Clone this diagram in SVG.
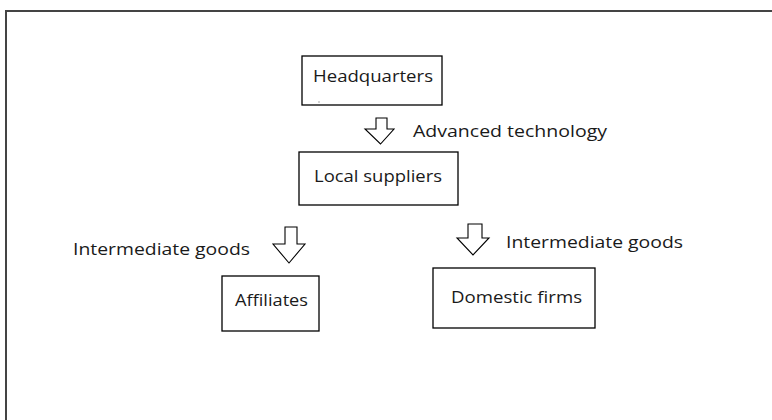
<svg xmlns="http://www.w3.org/2000/svg" width="772" height="420" viewBox="0 0 772 420">
<style>
.box{fill:#fff;stroke:#000;stroke-width:1.3}
.t{font-family:"Open Sans","Noto Sans","Liberation Sans",sans-serif;font-size:16.5px;fill:#1a1a1a}
.arr{fill:#fff;stroke:#000;stroke-width:1.1;stroke-linejoin:miter}
</style>
<rect x="0" y="0" width="772" height="420" fill="#fff"/>
<rect x="6" y="11" width="800" height="450" fill="none" stroke="#444" stroke-width="2"/>
<g id="headquarters">
<rect class="box" x="302" y="56" width="140" height="49"/>
<text class="t" x="313" y="82" textLength="120" lengthAdjust="spacingAndGlyphs">Headquarters</text>
<rect x="318.5" y="101.5" width="1" height="1" fill="#555"/>
</g>
<g id="local-suppliers">
<rect class="box" x="299" y="152" width="159" height="53"/>
<text class="t" x="314" y="182" textLength="128" lengthAdjust="spacingAndGlyphs">Local suppliers</text>
</g>
<g id="affiliates">
<rect class="box" x="222" y="276" width="97" height="55"/>
<text class="t" x="235" y="306" textLength="73" lengthAdjust="spacingAndGlyphs">Affiliates</text>
</g>
<g id="domestic-firms">
<rect class="box" x="433" y="268" width="162" height="60"/>
<text class="t" x="451" y="303" textLength="131" lengthAdjust="spacingAndGlyphs">Domestic firms</text>
</g>
<g id="connectors">
<polygon class="arr" points="376,118 387,118 387,129 394,129 380.5,144 365,129 376,129"/>
<text class="t" x="413" y="137" textLength="194" lengthAdjust="spacingAndGlyphs">Advanced technology</text>
<polygon class="arr" points="285,227 297,227 297,244 305,244 289,263 273,244 285,244"/>
<text class="t" x="73" y="255" textLength="177" lengthAdjust="spacingAndGlyphs">Intermediate goods</text>
<polygon class="arr" points="468,224 482,224 482,238 489,238 473,255 457,238 468,238"/>
<text class="t" x="506" y="248" textLength="177" lengthAdjust="spacingAndGlyphs">Intermediate goods</text>
</g>
</svg>
